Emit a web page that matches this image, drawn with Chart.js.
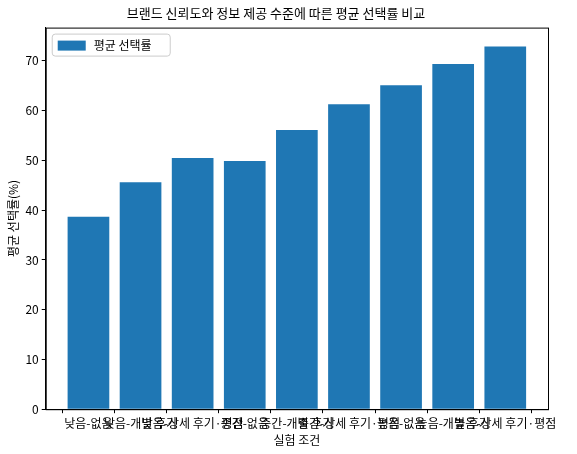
<!DOCTYPE html><html><head><script src="https://cdn.jsdelivr.net/npm/chart.js@4"></script>
<style>body{margin:0;background:#fff}#w{width:577px;height:454px}</style></head><body><div id="w"><canvas id="c"></canvas></div>
<script>
const categories=["낮음-없음","낮음-개별 후기","낮음-상세 후기·평점","중간-없음","중간-개별 후기","중간-상세 후기·평점","높음-없음","높음-개별 후기","높음-상세 후기·평점"];
const values=[38.7,45.6,50.5,49.9,56.1,61.3,65.1,69.4,72.9];
const seriesName='평균 선택률';
const F="'Noto Sans CJK KR','DejaVu Sans'";
const frame={id:'frame',afterDraw(c){const a=c.chartArea,x=c.ctx;x.save();x.strokeStyle='#000';x.lineWidth=1;x.strokeRect(a.left+0.5,a.top+0.5,a.right-a.left,a.bottom-a.top);
const lx=a.left+6,ly=a.top+6;x.strokeStyle='#ccc';x.fillStyle='#fff';x.beginPath();x.roundRect(lx+0.5,ly+0.5,118,22,3);x.fill();x.stroke();
x.fillStyle='#1f77b4';x.fillRect(lx+6,ly+7,28,10);x.fillStyle='#000';x.font="12px "+F;x.textBaseline='middle';x.fillText(c.data.datasets[0].label,lx+42,ly+12);x.restore();}};
new Chart(document.getElementById('c'),{type:'bar',data:{datasets:[{label:seriesName,data:values.map((v,i)=>({x:i,y:v})),backgroundColor:'#1f77b4',categoryPercentage:1,barPercentage:0.8}]},
options:{animation:false,responsive:true,maintainAspectRatio:false,
layout:{padding:{left:4,right:29,top:0,bottom:6}},
plugins:{legend:{display:false},tooltip:{enabled:false},title:{display:true,text:'브랜드 신뢰도와 정보 제공 수준에 따른 평균 선택률 비교',color:'#000',font:{family:F,size:13,weight:'normal'},padding:{top:5,bottom:7}}},
scales:{x:{type:'linear',min:-0.82,max:8.82,offset:false,grid:{drawOnChartArea:false,tickLength:4,color:'#000'},border:{color:'#000'},afterBuildTicks(s){s.ticks=categories.map((_,i)=>({value:i}));},ticks:{color:'#000',maxRotation:0,minRotation:0,autoSkip:false,font:{family:F,size:12},callback:v=>categories[v]},title:{display:true,text:'실험 조건',color:'#000',font:{family:F,size:12},padding:0}},
y:{min:0,max:76.7,grid:{drawOnChartArea:false,tickLength:4,color:'#000'},border:{color:'#000'},afterBuildTicks(s){s.ticks=[0,10,20,30,40,50,60,70].map(v=>({value:v}));},ticks:{color:'#000',font:{family:F,size:12}},title:{display:true,text:'평균 선택률(%)',color:'#000',font:{family:F,size:12},padding:2}}}},plugins:[frame]});
</script></body></html>
